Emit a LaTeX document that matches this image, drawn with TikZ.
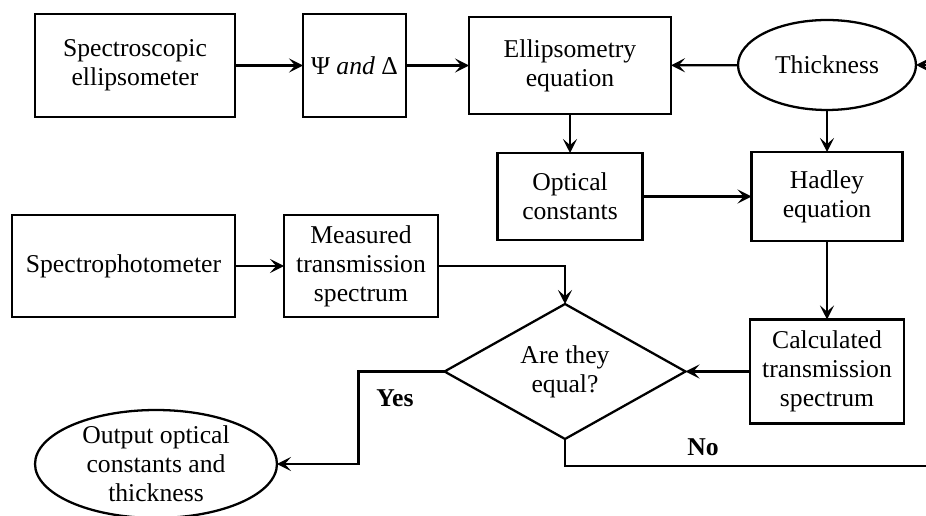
\documentclass[tikz,border=0pt]{standalone}
\usepackage{fontspec}
\setmainfont{Liberation Serif}
\usetikzlibrary{arrows.meta, shapes.geometric}

\begin{document}
\begin{tikzpicture}[
  x=0.02cm, y=-0.02cm,
  box/.style={draw, line width=1.3pt, align=center, inner sep=0pt, outer sep=0pt,
              font=\fontsize{14.6}{16.5}\selectfont},
  oval/.style={box, ellipse},
  decide/.style={box, diamond, aspect=1.8},
  lbl/.style={font=\fontsize{14.6}{16.5}\selectfont\bfseries},
  arr/.style={-{Stealth[length=8pt, width=8pt, inset=3.5pt]}, line width=1.3pt}
]
  \useasboundingbox (0,0) rectangle (926,516);
  \clip (0,0) rectangle (926,516);

  \node[box, minimum width=4cm, minimum height=2.06cm] (se) at (135,65.5) {Spectroscopic\\ellipsometer};
  \node[box, minimum width=2.06cm, minimum height=2.06cm] (psi) at (354.5,65.5) {Ψ \textit{and} Δ};
  \node[box, minimum width=4.04cm, minimum height=1.94cm] (eqn) at (570,65.5) {Ellipsometry\\equation};
  \node[oval, minimum width=3.56cm, minimum height=1.8cm] (thick) at (827,65) {Thickness};
  \node[box, minimum width=2.9cm, minimum height=1.74cm] (optc) at (570,196.5) {Optical\\constants};
  \node[box, minimum width=3.02cm, minimum height=1.78cm] (hadley) at (827,196.5) {Hadley\\equation};
  \node[box, minimum width=4.46cm, minimum height=2.04cm] (sp) at (123.5,266) {Spectrophotometer};
  \node[box, minimum width=3.08cm, minimum height=2.04cm] (meas) at (361,266) {Measured\\transmission\\spectrum};
  \node[decide, minimum width=4.82cm, minimum height=2.7cm] (equal) at (565,371.5) {Are they\\equal?};
  \node[box, minimum width=3.08cm, minimum height=2.08cm] (calc) at (827,371.5) {Calculated\\transmission\\spectrum};
  \node[oval, inner ysep=-4pt, minimum width=4.84cm, minimum height=2.16cm] (output) at (156,464) {Output optical\\constants and\\thickness};

  \node[lbl] (yes) at (395,398) {Yes};
  \node[lbl] (no) at (703,447) {No};
  \coordinate (loop) at (945,466);

  \draw[arr] (se) -- (psi);
  \draw[arr] (psi) -- (eqn);
  \draw[arr] (thick) -- (eqn);
  \draw[arr] (eqn) -- (optc);
  \draw[arr] (thick) -- (hadley);
  \draw[arr] (optc) -- (hadley);
  \draw[arr] (hadley) -- (calc);
  \draw[arr] (calc) -- (equal);
  \draw[arr] (sp) -- (meas);
  \draw[arr] (meas) -| (equal);
  \draw[arr] (equal.west) -- ++(-86,0) |- (output);
  \draw[arr] (equal.south) |- (loop) |- (thick);
\end{tikzpicture}
\end{document}
